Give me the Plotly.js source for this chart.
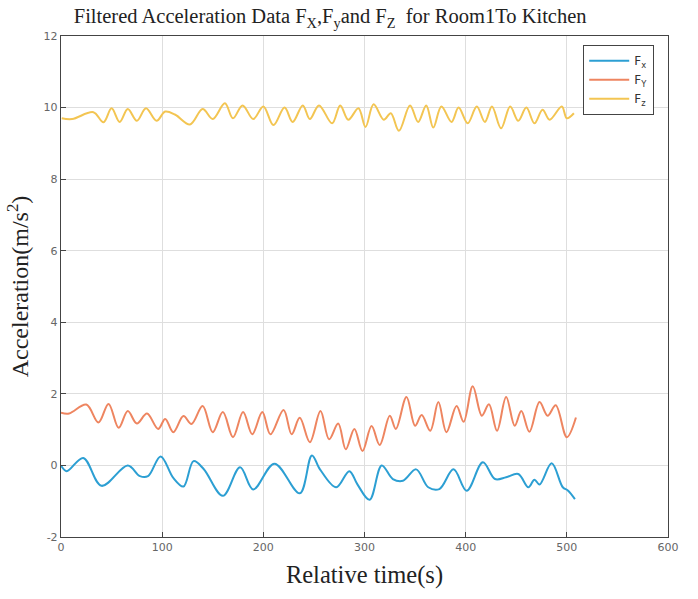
<!DOCTYPE html>
<html>
<head>
<meta charset="utf-8">
<script src="https://cdn.plot.ly/plotly-3.0.1.min.js"></script>
<style>html,body{margin:0;padding:0;background:#fff;}#chart{width:698px;height:599px;}</style>
</head>
<body>
<div id="chart"></div>
<script>
// Fx (blue)
const fxTime = [0, 5.6, 22, 40, 66, 78, 86, 98.5, 111, 121, 131, 141, 160, 177, 190, 211, 236, 248, 256, 272, 285, 293, 305, 317, 328, 338, 351, 363, 374, 388, 401, 417, 429, 440, 452, 462, 468, 473, 485, 496, 501, 508];
const fxValues = [0, -0.16, 0.21, -0.57, 0.0, -0.3, -0.3, 0.25, -0.35, -0.59, 0.12, -0.1, -0.85, -0.05, -0.67, 0.05, -0.78, 0.28, -0.11, -0.61, -0.16, -0.53, -0.96, 0.0, -0.38, -0.43, -0.11, -0.61, -0.66, -0.11, -0.71, 0.09, -0.38, -0.33, -0.24, -0.61, -0.4, -0.53, 0.06, -0.61, -0.7, -0.94];
// Fy (orange)
const fyTime = [0, 8, 25, 37, 47, 57, 66, 75, 85, 96, 103, 111, 121, 129, 140, 150, 160, 170, 180, 189, 199, 207, 220, 228, 236, 246, 256.5, 265, 274, 281.5, 290, 298, 307, 315, 325, 331, 341.5, 350, 356.5, 365, 373, 381, 391, 398, 407, 416, 423, 431, 440, 448.5, 455, 463, 473, 481, 489, 500, 509];
const fyValues = [1.47, 1.45, 1.70, 1.2, 1.72, 1.05, 1.52, 1.17, 1.45, 1.02, 1.3, 0.93, 1.38, 1.16, 1.66, 0.93, 1.49, 0.79, 1.49, 0.87, 1.49, 0.87, 1.55, 0.87, 1.33, 0.65, 1.52, 0.73, 1.17, 0.45, 1.02, 0.4, 1.1, 0.57, 1.39, 1.02, 1.91, 1.11, 1.41, 0.97, 1.77, 0.93, 1.66, 1.22, 2.21, 1.39, 1.71, 0.97, 1.91, 1.11, 1.52, 0.94, 1.77, 1.39, 1.68, 0.79, 1.34];
// Fz (yellow)
const fzTime = [0.7, 11, 32, 42, 50, 58, 66, 75, 84, 94.5, 103, 113, 127.5, 140, 150, 162, 170, 179.5, 190, 200, 210, 221, 229, 239, 246, 255, 268, 276, 284, 294, 301, 309, 319, 326, 334, 345, 353, 361, 368, 376, 386, 393, 402, 411, 419, 426, 435, 444, 452, 460, 468, 476, 483, 495, 500, 507];
const fzValues = [9.7, 9.68, 9.87, 9.59, 9.98, 9.6, 9.96, 9.63, 9.98, 9.63, 9.89, 9.8, 9.53, 9.96, 9.68, 10.12, 9.7, 10.06, 9.68, 10.03, 9.51, 10.0, 9.6, 10.06, 9.68, 10.06, 9.56, 10.06, 9.66, 9.98, 9.46, 10.09, 9.66, 9.84, 9.35, 10.06, 9.6, 10.06, 9.44, 10.03, 9.6, 10.0, 9.56, 10.03, 9.6, 10.03, 9.42, 10.03, 9.63, 10.0, 9.56, 9.94, 9.66, 10.03, 9.7, 9.84];
const seriesNames = ['F<sub>x</sub>', 'F<sub>Y</sub>', 'F<sub>z</sub>'];
const xTicks = [0, 100, 200, 300, 400, 500, 600];
const yTicks = [-2, 0, 2, 4, 6, 8, 10, 12];

const colors = ['#2c9fd3', '#ee8560', '#f3c552'];
const mk = (x, y, i) => ({
  x: x, y: y, type: 'scatter', mode: 'lines', name: seriesNames[i],
  line: {color: colors[i], width: 2, shape: 'spline', smoothing: 1}
});
const data = [mk(fxTime, fxValues, 0), mk(fyTime, fyValues, 1), mk(fzTime, fzValues, 2)];

const serif = 'Liberation Serif, Times New Roman, serif';
const axisCommon = {
  showline: true, linecolor: '#444', linewidth: 1.2, mirror: true,
  ticks: 'inside', ticklen: 5, tickcolor: '#444',
  showgrid: true, gridcolor: '#dedede', gridwidth: 1, zeroline: false,
  tickfont: {family: 'DejaVu Sans, sans-serif', size: 11, color: '#666'}
};
const layout = {
  width: 698, height: 599,
  margin: {l: 61, r: 30, t: 36, b: 62},
  paper_bgcolor: '#fff', plot_bgcolor: '#fff',
  title: {
    text: 'Filtered Acceleration Data F<sub>X</sub>,F<sub>y</sub>and F<sub>Z</sub>  for Room1To Kitchen',
    font: {family: serif, size: 20.5, color: '#222'},
    x: 0.473, xref: 'container', xanchor: 'center', y: 0.973, yref: 'container', yanchor: 'middle'
  },
  xaxis: Object.assign({}, axisCommon, {
    range: [0, 600], tickvals: xTicks, ticktext: xTicks.map(String),
    title: {text: 'Relative time(s)', font: {family: serif, size: 24.5, color: '#222'}, standoff: 12}
  }),
  yaxis: Object.assign({}, axisCommon, {
    range: [-2, 12], tickvals: yTicks, ticktext: yTicks.map(String),
    title: {text: 'Acceleration(m/s<sup>2</sup>)', font: {family: serif, size: 24, color: '#222'}, standoff: 8}
  }),
  showlegend: true,
  legend: {
    x: 0.86, y: 0.982, xanchor: 'left', yanchor: 'top',
    bgcolor: '#fff', bordercolor: '#444', borderwidth: 1.2,
    font: {family: 'DejaVu Sans, sans-serif', size: 12, color: '#333'},
    tracegroupgap: 0, itemwidth: 40
  }
};
Plotly.newPlot('chart', data, layout, {displayModeBar: false, staticPlot: true});
</script>
</body>
</html>
